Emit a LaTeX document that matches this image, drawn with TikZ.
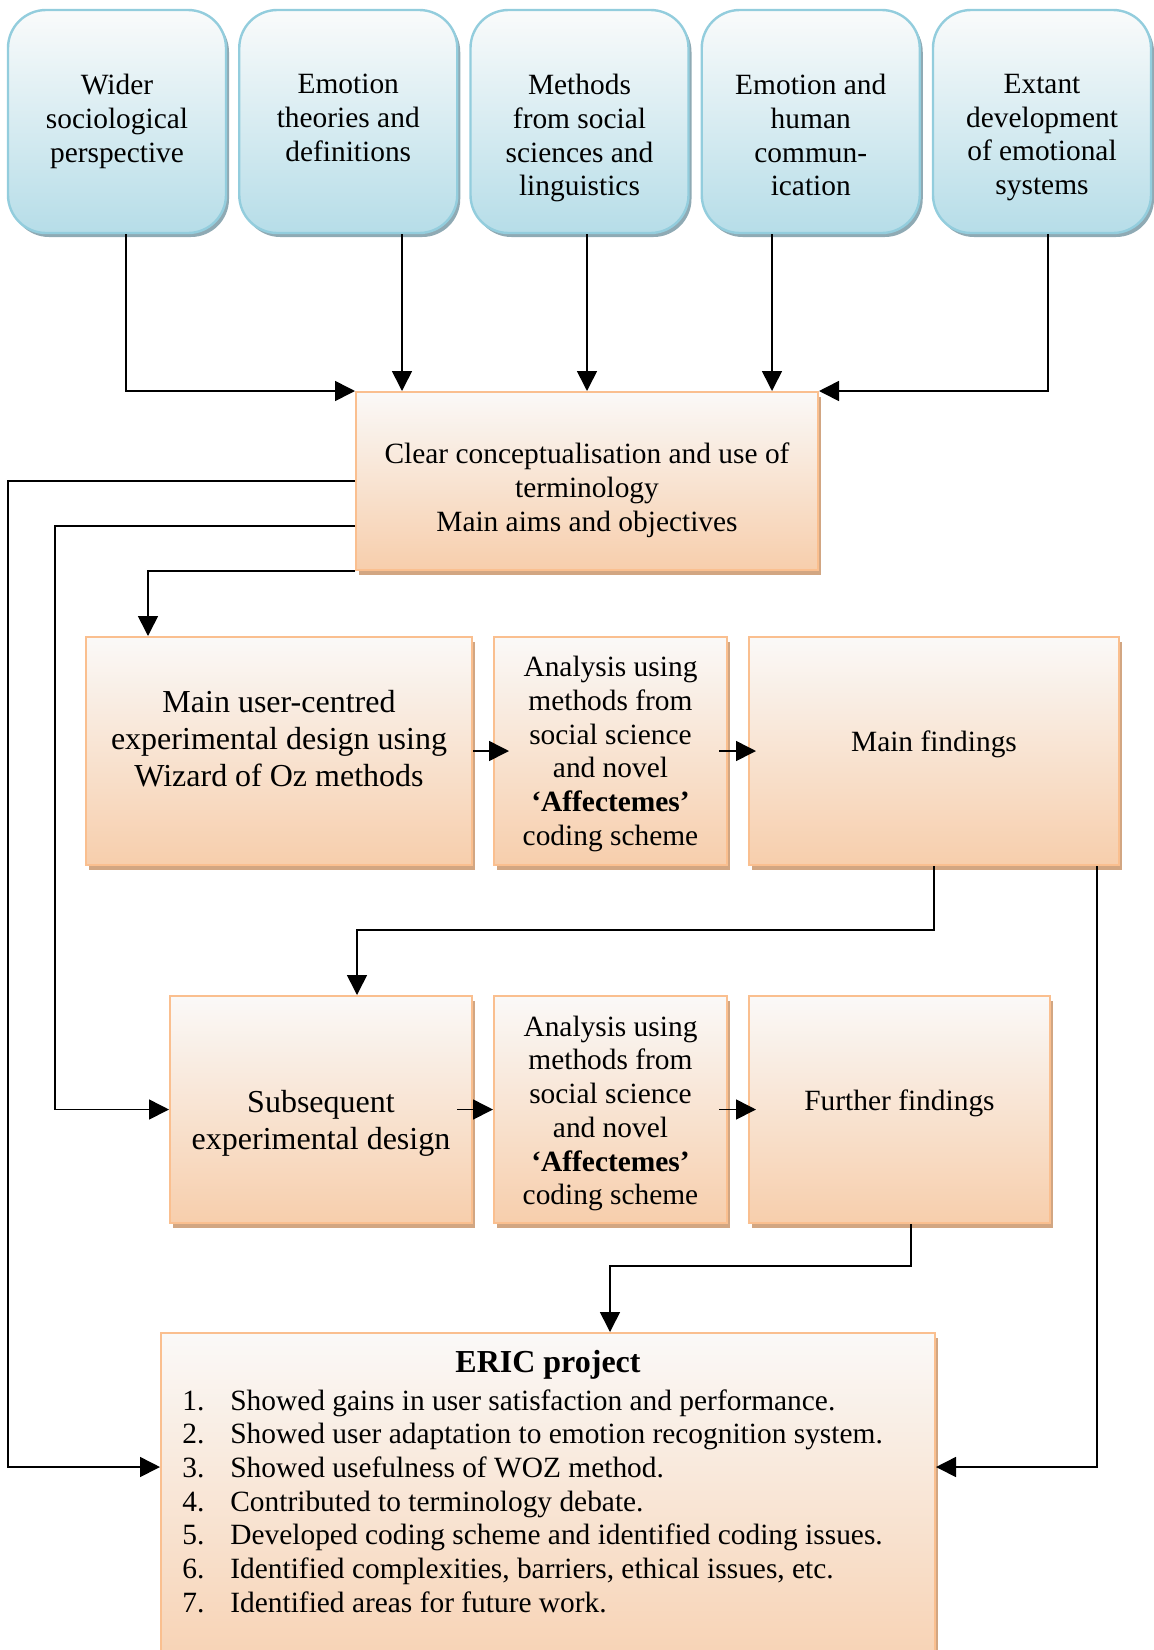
\documentclass[tikz,border=0pt]{standalone}
\usepackage{fontspec}
\setmainfont{Liberation Serif}
\usetikzlibrary{arrows.meta,positioning,shadows}

\definecolor{tbline}{RGB}{147,205,221}
\definecolor{tbtop}{RGB}{250,251,251}
\definecolor{tbbot}{RGB}{182,221,232}
\definecolor{tbshadow}{RGB}{143,170,180}
\definecolor{obline}{RGB}{250,191,143}
\definecolor{obtop}{RGB}{250,249,248}
\definecolor{obbot}{RGB}{247,206,172}
\definecolor{obshadow}{RGB}{210,166,130}

\newcommand\boxfont{\fontsize{14.7pt}{16.85pt}\selectfont}
\newcommand\bigboxfont{\fontsize{16pt}{18.4pt}\selectfont}

\begin{document}
\begin{tikzpicture}[x=0.5pt,y=-0.5pt,
    topbox/.style={draw=tbline, line width=1.2pt, rounded corners=19pt,
        top color=tbtop, bottom color=tbbot,
        drop shadow={shadow xshift=1.5pt, shadow yshift=-2pt, fill=tbshadow, opacity=1},
        minimum width=109pt, minimum height=111.5pt, inner sep=0pt},
    obox/.style={draw=obline, line width=1pt, top color=obtop, bottom color=obbot,
        drop shadow={shadow xshift=1.5pt, shadow yshift=-2.5pt, fill=obshadow, opacity=1},
        inner sep=0pt},
    txt/.style={align=center, font=\boxfont, inner sep=0pt},
    arr/.style={-{Triangle[length=10pt,width=10pt]}, line width=0.8pt}]
        \useasboundingbox (0,0) rectangle (1154,1650);

        % sources
        \node (b1) [topbox] at (117,121.5) {};
        \node (t1) [txt, below=32.5pt of b1.north] {Wider\\sociological\\perspective};
        \node (b2) [topbox] at (348.25,121.5) {};
        \node (t2) [txt, below=32.5pt of b2.north] {Emotion\\theories and\\definitions};
        \node (b3) [topbox] at (579.5,121.5) {};
        \node (t3) [txt, below=32.5pt of b3.north] {Methods\\from social\\sciences and\\linguistics};
        \node (b4) [topbox] at (810.75,121.5) {};
        \node (t4) [txt, below=32.5pt of b4.north] {Emotion and\\human\\commun-\\ication};
        \node (b5) [topbox] at (1042,121.5) {};
        \node (t5) [txt, below=32.5pt of b5.north] {Extant\\development\\of emotional\\systems};

        \node (cc) [obox, minimum width=231pt, minimum height=89pt] at (587,481) {};
        \node (cct) [txt] at ([yshift=-4.7pt]cc.center)
            {Clear conceptualisation and use of\\terminology\\Main aims and objectives};

        % main study
        \node (m1) [obox, minimum width=193pt, minimum height=114pt] at (279,751) {};
        \node (m1t) [txt, font=\bigboxfont] at ([yshift=6.3pt]m1.center)
            {Main user-centred\\experimental design using\\Wizard of Oz methods};
        \node (a1) [obox, minimum width=116.5pt, minimum height=114pt] at (610.5,751) {};
        \node (a1t) [txt] at ([yshift=-1.5pt]a1.center)
            {Analysis using\\methods from\\social science\\and novel\\\textbf{‘Affectemes’}\\coding scheme};
        \node (f1) [obox, minimum width=185pt, minimum height=114pt] at (934,751) {};
        \node (f1t) [txt] at ([yshift=3.2pt]f1.center) {Main findings};

        % follow-up study
        \node (m2) [obox, minimum width=151pt, minimum height=113.5pt] at (321,1109.5) {};
        \node (m2t) [txt, font=\bigboxfont] at ([yshift=-6.8pt]m2.center)
            {Subsequent\\experimental design};
        \node (a2) [obox, minimum width=116.5pt, minimum height=113.5pt] at (610.5,1109.5) {};
        \node (a2t) [txt] at ([yshift=-2pt]a2.center)
            {Analysis using\\methods from\\social science\\and novel\\\textbf{‘Affectemes’}\\coding scheme};
        \node (f2) [obox, minimum width=150.5pt, minimum height=113.5pt] at (899.5,1109.5) {};
        \node (f2t) [txt] at ([yshift=3.2pt]f2.center) {Further findings};

        % outcome
        \node (er) [obox, minimum width=387pt, minimum height=183.5pt] at (548,1516.5) {};
        \node (ert) [txt, font={\bigboxfont\bfseries}] at (548,1365) {ERIC project};
        \node (erl) [txt, anchor=base west] at (182,1410) {\begin{tabular}[t]{@{}p{24pt}@{}l@{}}
            1. & Showed gains in user satisfaction and performance.\\
            2. & Showed user adaptation to emotion recognition system.\\
            3. & Showed usefulness of WOZ method.\\
            4. & Contributed to terminology debate.\\
            5. & Developed coding scheme and identified coding issues.\\
            6. & Identified complexities, barriers, ethical issues, etc.\\
            7. & Identified areas for future work.
        \end{tabular}};

        \coordinate (in2) at ([xshift=-92.5pt]cc.north);
        \coordinate (in4) at ([xshift=92.5pt]cc.north);
        \coordinate (in5) at ([xshift=-65.5pt]m1.north);
        \coordinate (erin) at (548,1467);

        \draw [arr] ([xshift=4.5pt]b1.south) |- (cc.north west);
        \draw [arr] (b2.south -| in2) -- (in2);
        \draw [arr] (b3.south -| cc.north) -- (cc.north);
        \draw [arr] (b4.south -| in4) -- (in4);
        \draw [arr] ([xshift=3pt]b5.south) |- (cc.north east);

        \draw [arr] (cc.west) -- ++(-173.5pt,0) |- (er.west |- erin);
        \draw [arr] ([yshift=-22.5pt]cc.west) -- ++(-150pt,0) |- (m2.west);
        \draw [arr] (cc.south west) -| (in5);

        \draw [arr] (m1.east) -- ([xshift=8pt]a1.west);
        \draw [arr] ([xshift=-4.5pt]a1.east) -- ([xshift=4pt]f1.west);
        \draw [arr] ([xshift=-8pt]m2.east) -- (a2.west);
        \draw [arr] ([xshift=-4.5pt]a2.east) -- ([xshift=4pt]f2.west);

        \draw [arr] (f1.south) -- ++(0,-32pt) -| ([xshift=18pt]m2.north);
        \draw [arr] ([xshift=-11.5pt]f1.south east) |- (er.east |- erin);
        \draw [arr] ([xshift=5.75pt]f2.south) -- ++(0,-21pt) -| ([xshift=31pt]er.north);
\end{tikzpicture}
\end{document}
